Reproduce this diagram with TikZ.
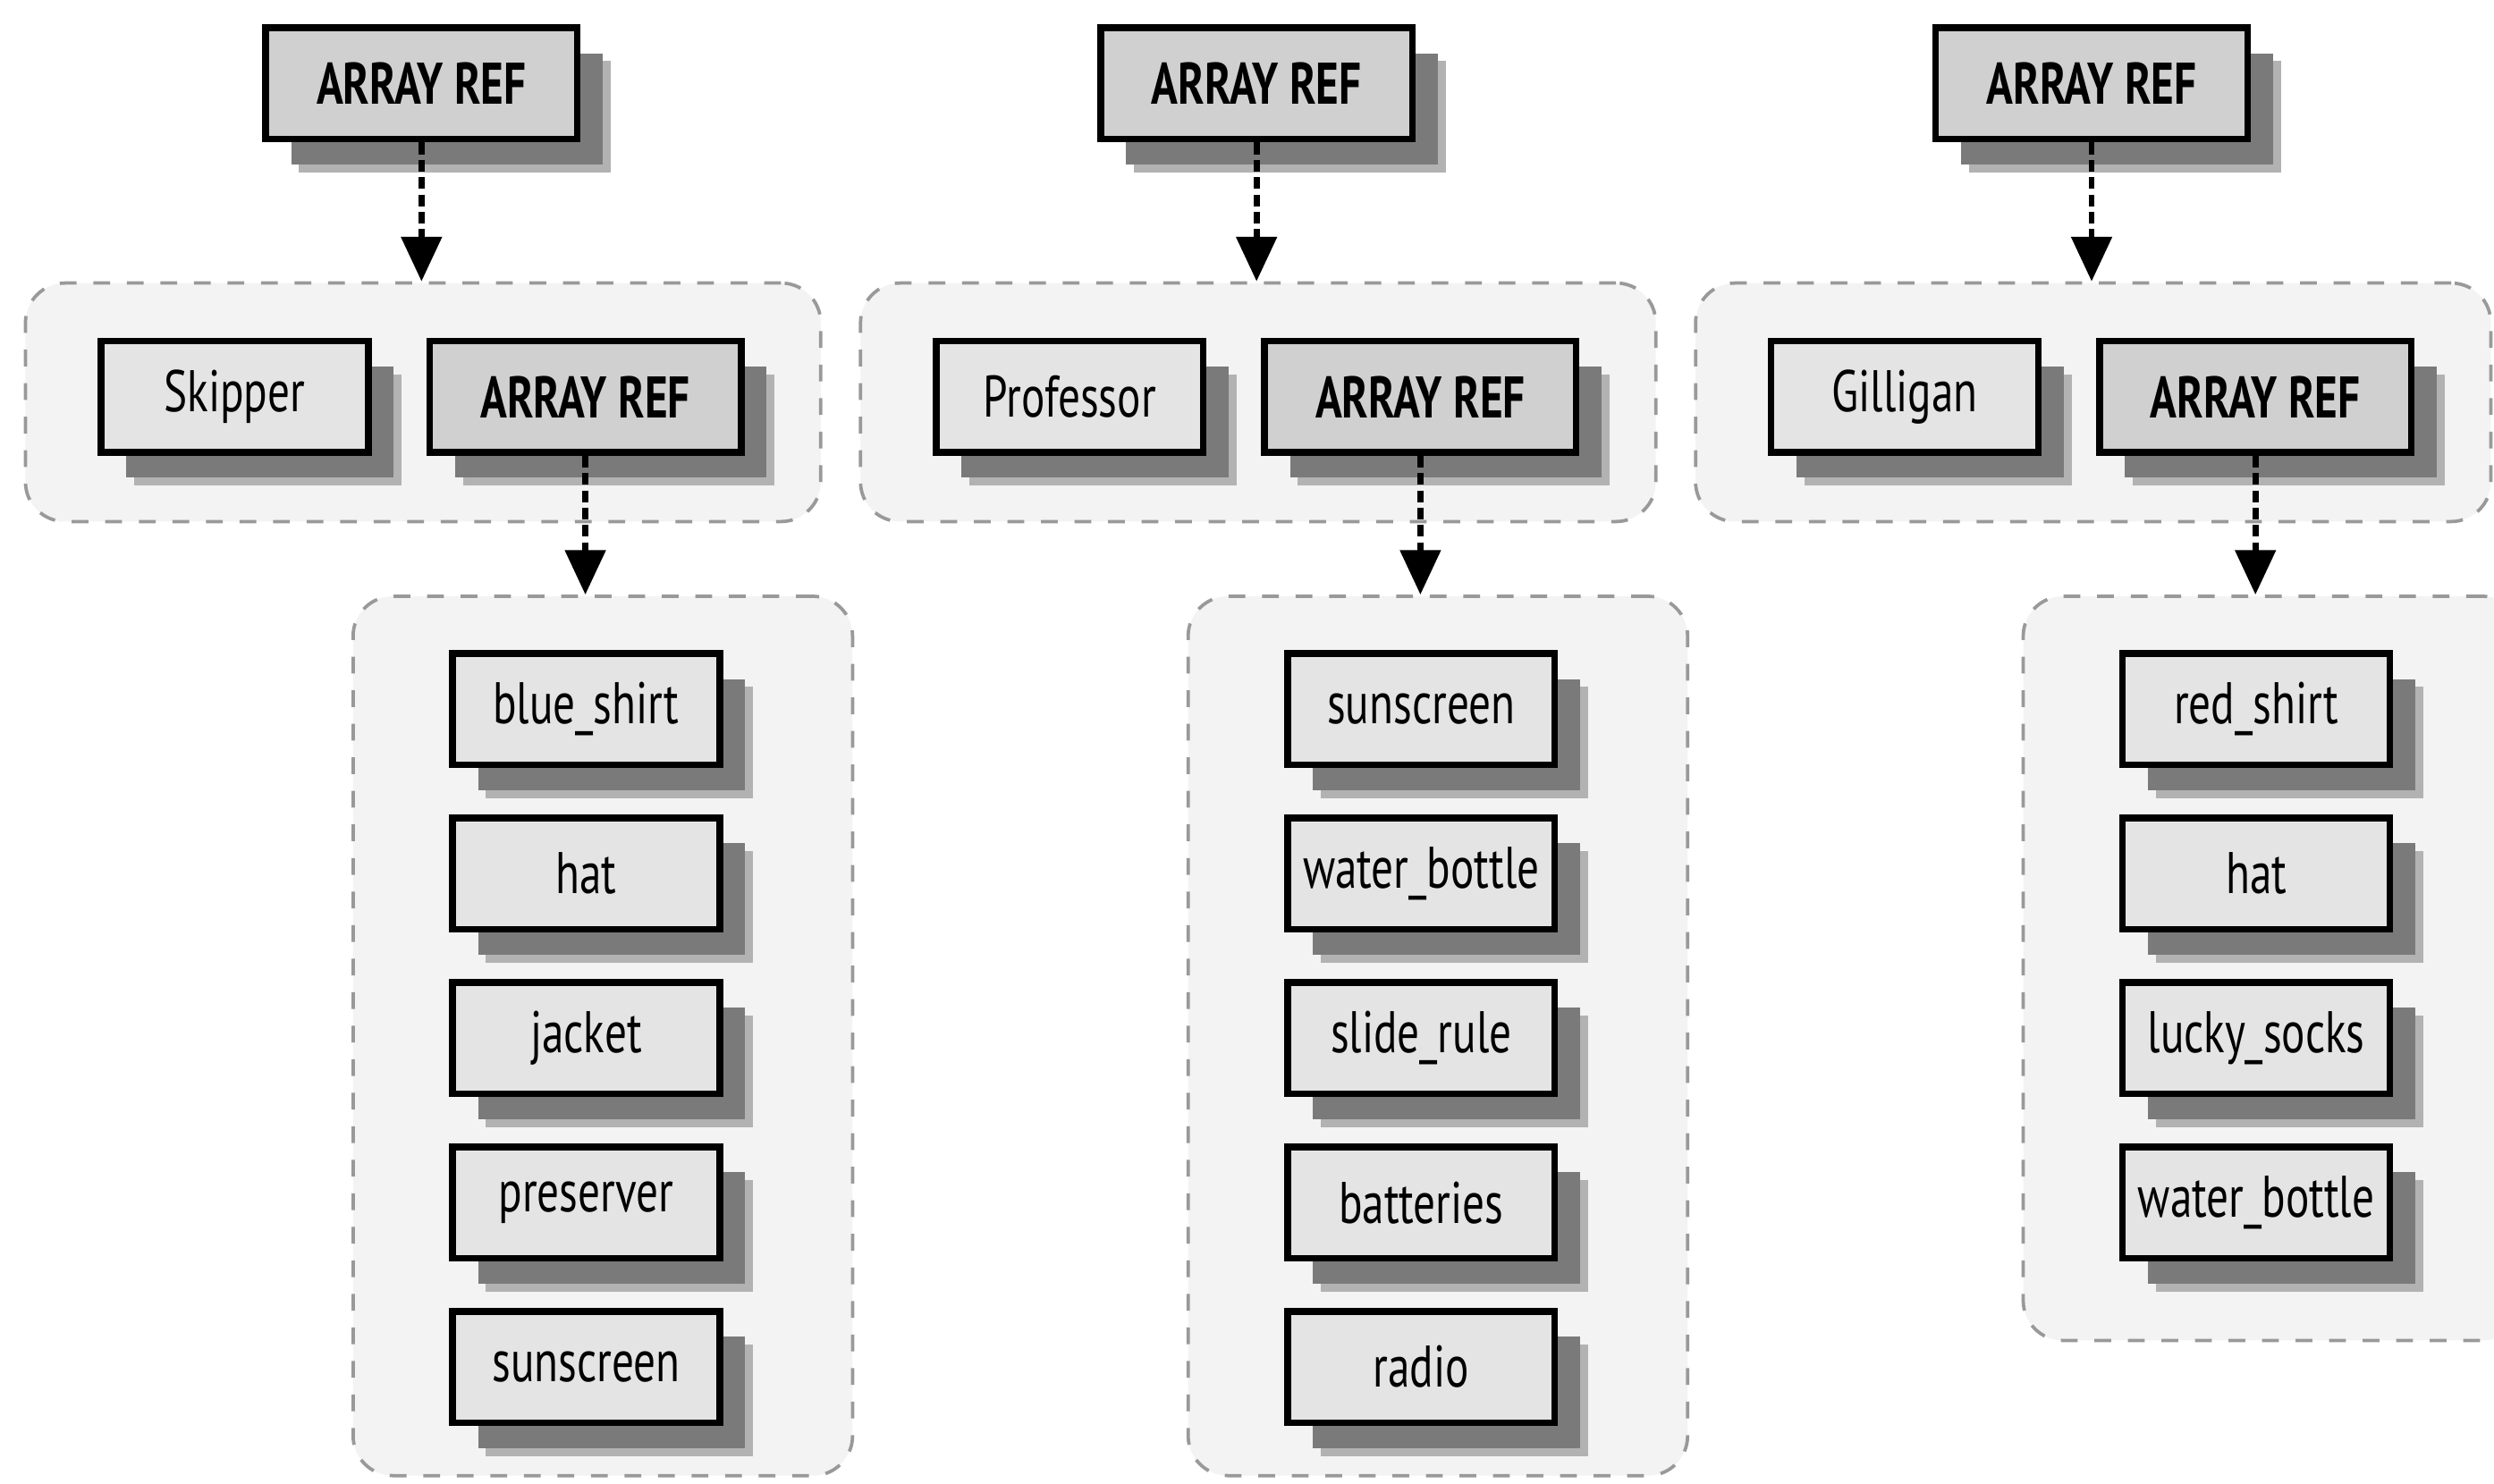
\documentclass[tikz,border=0pt]{standalone}
\usepackage{fontspec}
\setmainfont{PT Sans}[FakeStretch=0.75]
\usepackage{xcolor}
\usepackage{tikz}
\usetikzlibrary{positioning,arrows.meta,shadows}
\definecolor{refgray}{HTML}{D0D0D0}
\definecolor{itemgray}{HTML}{E4E4E4}
\definecolor{groupbg}{HTML}{F3F3F3}
\definecolor{shade}{HTML}{7A7A7A}

\begin{document}
\begin{tikzpicture}[
    node distance=2.92mm,
    box/.style={draw=black, line width=1.2pt, fill=itemgray, minimum width=1.68cm, minimum height=0.70cm, inner sep=0pt, font=\fontsize{10.5}{12}\selectfont,
        drop shadow={shadow xshift=2.1mm, shadow yshift=-2.1mm, fill=black!30, opacity=1},
        drop shadow={shadow xshift=1.6mm, shadow yshift=-1.6mm, fill=shade, opacity=1}},
    refbox/.style={box, fill=refgray, minimum width=1.96cm, font=\fontsize{10.5}{12}\selectfont\bfseries},
    group/.style={draw=black!40, dashed, line width=0.6pt, fill=groupbg, rounded corners=2.5mm, inner sep=0pt},
    ptr/.style={-{Triangle[length=2.8mm, width=2.5mm]}, line width=1.1pt, dash pattern=on 2.1pt off 1pt}
]
    \useasboundingbox (0,0) rectangle (15.68,-9.33);

    % Skipper
    \node[refbox] (top1) at (2.65,-0.525) {ARRAY REF};
    \node[group, minimum width=5.00cm, minimum height=1.50cm] (grp1) at (2.66,-2.53) {};
    \node[box] (name1) at (1.475,-2.495) {Skipper};
    \node[refbox] (ref1) at (3.68,-2.495) {ARRAY REF};
    \node[group, minimum width=3.14cm, minimum height=5.53cm] (list1) at (3.79,-6.515) {};
    \node[box] (s1) at (3.685,-4.46) {blue\_shirt};
    \node[box, below=of s1] (s2) {hat};
    \node[box, below=of s2] (s3) {jacket};
    \node[box, below=of s3] (s4) {preserver};
    \node[box, below=of s4] (s5) {sunscreen};

    % Professor
    \node[refbox] (top2) at (7.90,-0.525) {ARRAY REF};
    \node[group, minimum width=5.00cm, minimum height=1.50cm] (grp2) at (7.91,-2.53) {};
    \node[box] (name2) at (6.725,-2.495) {Professor};
    \node[refbox] (ref2) at (8.93,-2.495) {ARRAY REF};
    \node[group, minimum width=3.14cm, minimum height=5.53cm] (list2) at (9.04,-6.515) {};
    \node[box] (p1) at (8.935,-4.46) {sunscreen};
    \node[box, below=of p1] (p2) {water\_bottle};
    \node[box, below=of p2] (p3) {slide\_rule};
    \node[box, below=of p3] (p4) {batteries};
    \node[box, below=of p4] (p5) {radio};

    % Gilligan
    \node[refbox] (top3) at (13.15,-0.525) {ARRAY REF};
    \node[group, minimum width=5.00cm, minimum height=1.50cm] (grp3) at (13.16,-2.53) {};
    \node[box] (name3) at (11.975,-2.495) {Gilligan};
    \node[refbox] (ref3) at (14.18,-2.495) {ARRAY REF};
    \node[group, minimum width=3.14cm, minimum height=4.68cm] (list3) at (14.29,-6.09) {};
    \node[box] (g1) at (14.185,-4.46) {red\_shirt};
    \node[box, below=of g1] (g2) {hat};
    \node[box, below=of g2] (g3) {lucky\_socks};
    \node[box, below=of g3] (g4) {water\_bottle};

    % Pointers
    \draw[ptr] (top1.south) -- (top1.south |- grp1.north);
    \draw[ptr] (ref1.south) -- (ref1.south |- list1.north);
    \draw[ptr] (top2.south) -- (top2.south |- grp2.north);
    \draw[ptr] (ref2.south) -- (ref2.south |- list2.north);
    \draw[ptr] (top3.south) -- (top3.south |- grp3.north);
    \draw[ptr] (ref3.south) -- (ref3.south |- list3.north);
\end{tikzpicture}
\end{document}
